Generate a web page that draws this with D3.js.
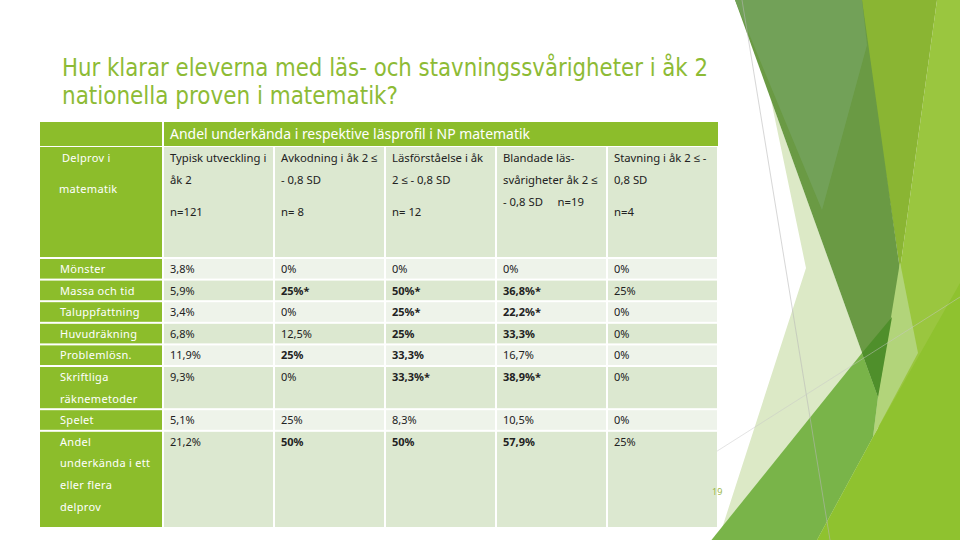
<!DOCTYPE html>
<html>
<head>
<meta charset="utf-8">
<script src="https://cdn.jsdelivr.net/npm/d3@7"></script>
<style>
  html, body { margin: 0; padding: 0; background: #fff; }
  svg { display: block; }
  text { white-space: pre; }
</style>
</head>
<body>
<div id="chart"></div>
<script>
// table content
const titleLines = ["Hur klarar eleverna med läs- och stavningssvårigheter i åk 2", "nationella proven i matematik?"];
const spanTitle = "Andel underkända i respektive läsprofil i NP matematik";
const cornerLines = ["Delprov i", "matematik"];
const groups = ["Typisk", "Avkodning", "Läsförståelse", "Blandade", "Stavning"];
const groupHeads = [
  [["Typisk utveckling i", "åk 2"], ["n=121"]],
  [["Avkodning i åk 2 ≤", "- 0,8 SD"], ["n= 8"]],
  [["Läsförståelse i åk", "2 ≤ - 0,8 SD"], ["n= 12"]],
  [["Blandade läs-", "svårigheter åk 2 ≤", "- 0,8 SD     n=19"]],
  [["Stavning i åk 2 ≤ -", "0,8 SD"], ["n=4"]]
];
const rowLabels = [
  ["Mönster"], ["Massa och tid"], ["Taluppfattning"], ["Huvudräkning"], ["Problemlösn."],
  ["Skriftliga", "räknemetoder"], ["Spelet"], ["Andel", "underkända i ett", "eller flera", "delprov"]
];
const typisk = ["3,8%", "5,9%", "3,4%", "6,8%", "11,9%", "9,3%", "5,1%", "21,2%"];
const avkodning = ["0%", "25%*", "0%", "12,5%", "25%", "0%", "25%", "50%"];
const lasforstaelse = ["0%", "50%*", "25%*", "25%", "33,3%", "33,3%*", "8,3%", "50%"];
const blandade = ["0%", "36,8%*", "22,2%*", "33,3%", "16,7%", "38,9%*", "10,5%", "57,9%"];
const stavning = ["0%", "25%", "0%", "0%", "0%", "0%", "0%", "25%"];
// bold = significant cells
const typiskBold = [0, 0, 0, 0, 0, 0, 0, 0];
const avkodningBold = [0, 1, 0, 0, 1, 0, 0, 1];
const lasforstaelseBold = [0, 1, 1, 1, 1, 1, 0, 1];
const blandadeBold = [0, 1, 1, 1, 0, 1, 0, 1];
const stavningBold = [0, 0, 0, 0, 0, 0, 0, 0];
const pageNumber = "19";

const columns = [typisk, avkodning, lasforstaelse, blandade, stavning];
const boldCols = [typiskBold, avkodningBold, lasforstaelseBold, blandadeBold, stavningBold];

const W = 960, H = 540;
const green = "#8cbd2b";
const lightRow = "#eef3ea";
const darkRow = "#dce8d0";
const textFont = "'Noto Sans', sans-serif";
const titleFont = "'DejaVu Sans Condensed', 'DejaVu Sans', sans-serif";

const svg = d3.select("#chart").append("svg")
  .attr("width", W).attr("height", H)
  .attr("viewBox", `0 0 ${W} ${H}`);

// background facets on the right
const bg = svg.append("g");
const facets = [
  { fill: "#9ac63f", pts: [[937,0],[960,0],[960,540],[817,540],[873,437],[878,397],[900,270]] },
  { fill: "#dce9c6", pts: [[771,100],[806,268],[715,550],[880,550],[878,397]] },
  { fill: "#8ab533", pts: [[860,0],[937,0],[900,270]] },
  { fill: "#6a9a44", pts: [[735,0],[862,0],[900,270],[878,397]] },
  { fill: "#72a158", pts: [[735,0],[862,0],[867,45],[822,210]] },
  { fill: "#b2d47a", pts: [[900,262],[918,353],[873,437],[878,397]] },
  { fill: "#79b449", pts: [[705,548],[862,353],[878,397],[873,437],[817,540]] },
  { fill: "#4f8f2b", pts: [[862,353],[892,317],[878,397]] },
  { fill: "#8fc22f", pts: [[817,540],[873,437],[960,283],[960,540]] }
];
bg.selectAll("polygon").data(facets).join("polygon")
  .attr("points", d => d.pts.map(p => p.join(",")).join(" "))
  .attr("fill", d => d.fill);
bg.append("line").attr("x1", 742).attr("y1", 0).attr("x2", 830).attr("y2", 540)
  .attr("stroke", "#b8b8b8").attr("stroke-width", 0.8).attr("opacity", 0.7);
bg.append("line").attr("x1", 640).attr("y1", 500).attr("x2", 960).attr("y2", 297)
  .attr("stroke", "#c8c8c8").attr("stroke-width", 0.8).attr("opacity", 0.6);

// title
svg.selectAll("text.title").data(titleLines).join("text")
  .attr("class", "title")
  .attr("x", 62)
  .attr("y", (d, i) => 76 + i * 28)
  .attr("font-family", titleFont)
  .attr("font-size", 25)
  .attr("fill", "#8dbb35")
  .attr("textLength", (d, i) => i === 0 ? 646 : 336)
  .attr("lengthAdjust", "spacingAndGlyphs")
  .text(d => d);

// table geometry
const tableLeft = 40, labelRight = 163, tableRight = 718;
const x = d3.scaleBand().domain(groups).range([labelRight, tableRight]);
const rowUnits = rowLabels.map(l => l.length > 2 ? l.length + 0.5 : l.length);
const rowStart = d3.cumsum([0].concat(rowUnits));
const y = d3.scaleLinear().domain([0, d3.sum(rowUnits)]).range([258, 528]);
const unit = y(1) - y(0);
const gap = 1;

const table = svg.append("g");

// header row 1
table.append("rect").attr("x", tableLeft).attr("y", 122)
  .attr("width", labelRight - tableLeft - gap).attr("height", 24).attr("fill", green);
table.append("rect").attr("x", labelRight + gap).attr("y", 122)
  .attr("width", tableRight - labelRight - gap).attr("height", 24).attr("fill", green);
table.append("text").attr("x", labelRight + 7).attr("y", 139)
  .attr("font-family", textFont).attr("font-size", 14).attr("fill", "#fff")
  .attr("textLength", 360).attr("lengthAdjust", "spacingAndGlyphs")
  .text(spanTitle);

// header row 2
table.append("rect").attr("x", tableLeft).attr("y", 147)
  .attr("width", labelRight - tableLeft - gap).attr("height", 110).attr("fill", green);
table.selectAll("text.corner").data(cornerLines).join("text")
  .attr("class", "corner")
  .attr("x", (d, i) => i === 0 ? 62 : 59)
  .attr("y", (d, i) => 162 + i * 31)
  .attr("font-family", textFont).attr("font-size", 11).attr("fill", "#fff")
  .attr("letter-spacing", 0.3)
  .text(d => d);

const heads = table.selectAll("g.head").data(groups).join("g").attr("class", "head");
heads.append("rect")
  .attr("x", d => x(d) + gap).attr("y", 147)
  .attr("width", x.bandwidth() - 2 * gap).attr("height", 110)
  .attr("fill", darkRow);
heads.each(function (g, gi) {
  const lines = [];
  let yy = 162;
  groupHeads[gi].forEach((para, pi) => {
    if (pi > 0) yy += 10;
    para.forEach(l => { lines.push({ t: l, y: yy }); yy += 22; });
  });
  d3.select(this).selectAll("text").data(lines).join("text")
    .attr("x", x(g) + 7).attr("y", d => d.y)
    .attr("font-family", textFont).attr("font-size", 11.3).attr("fill", "#222")
    .text(d => d.t);
});

// data rows
const rows = table.selectAll("g.row").data(rowLabels).join("g").attr("class", "row");
rows.append("rect")
  .attr("x", tableLeft)
  .attr("y", (d, i) => y(rowStart[i]) + gap)
  .attr("width", labelRight - tableLeft - gap)
  .attr("height", (d, i) => y(rowStart[i + 1]) - y(rowStart[i]) - 2 * gap)
  .attr("fill", green);
rows.selectAll("text.label").data((d, i) => d.map((t, k) => ({ t, k, i }))).join("text")
  .attr("class", "label")
  .attr("x", 60)
  .attr("y", d => y(rowStart[d.i]) + 15 + d.k * unit)
  .attr("font-family", textFont).attr("font-size", 11).attr("fill", "#fff")
  .attr("letter-spacing", 0.3)
  .text(d => d.t);

rows.each(function (r, i) {
  const cells = groups.map((g, gi) => ({ g, v: columns[gi][i], b: boldCols[gi][i] }));
  const sel = d3.select(this);
  sel.selectAll("rect.cell").data(cells).join("rect")
    .attr("class", "cell")
    .attr("x", d => x(d.g) + gap)
    .attr("y", y(rowStart[i]) + gap)
    .attr("width", x.bandwidth() - 2 * gap)
    .attr("height", y(rowStart[i + 1]) - y(rowStart[i]) - 2 * gap)
    .attr("fill", i % 2 === 0 ? lightRow : darkRow);
  sel.selectAll("text.val").data(cells).join("text")
    .attr("class", "val")
    .attr("x", d => x(d.g) + 7)
    .attr("y", y(rowStart[i]) + 15)
    .attr("font-family", textFont).attr("font-size", 11)
    .attr("font-weight", d => d.b ? "bold" : "normal")
    .attr("fill", "#222")
    .text(d => d.v);
});

// page number
svg.append("text").attr("x", 712).attr("y", 495)
  .attr("font-family", textFont).attr("font-size", 9).attr("fill", "#9ab84a")
  .text(pageNumber);
</script>
</body>
</html>
